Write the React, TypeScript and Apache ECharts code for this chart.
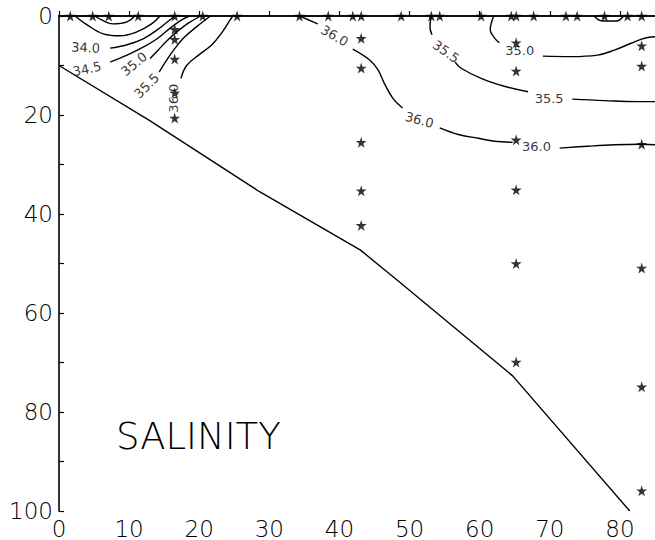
import React, { useEffect, useRef } from "react";
import * as echarts from "echarts";

// Station positions (distance, depth)
const surfaceX = [1.6, 4.8, 7.1, 11.3, 16.5, 20.5, 25.4, 34.3, 38.4, 41.9, 43.1, 48.8, 53.1, 54.3, 60.2, 64.5, 65.2, 67.7, 72.3, 73.9, 77.8, 81.1, 83.1];
const profileX = [16.5, 43.1, 65.2, 83.1];
const profileDepths = [
  [2.7, 4.7, 8.7, 15.5, 20.6],
  [4.5, 10.5, 25.5, 35.3, 42.3],
  [5.4, 11.1, 25.0, 35.1, 50.0, 69.9],
  [6.0, 10.1, 25.9, 50.9, 74.9, 95.9],
];

// Bottom profile
const bottomX = [0, 13, 28.6, 43, 48.6, 64.7, 81.4];
const bottomDepth = [10, 21.2, 35.5, 47.3, 53.8, 72.7, 100];

// Isohaline segments [distance, depth]
const isoInnerU = [[5.1, 0], [6.1, 0.8], [7.7, 1.6], [9.7, 1.2], [10.8, 0]];
const isoOuterU = [[2.3, 0], [4.0, 1.8], [6.3, 3.6], [8.7, 4.0], [11.1, 3.2], [13.2, 1.6], [14.4, 0]];
const iso340 = [[7.3, 6.5], [9.7, 5.8], [12.0, 4.6], [14.0, 2.8], [15.8, 0.8], [16.5, 0]];
const iso345 = [[7.3, 9.3], [9.7, 7.9], [12.0, 6.3], [14.0, 4.6], [15.9, 2.4], [17.5, 0.8], [18.6, 0]];
const iso350West = [[13.0, 8.6], [14.2, 6.8], [15.4, 5.0], [16.8, 3.2], [18.5, 1.4], [20.2, 0]];
const iso355West = [[14.3, 11.3], [15.4, 8.8], [16.5, 6.6], [17.8, 4.4], [19.6, 2.2], [21.6, 0]];
const iso360West = [[17.4, 12.6], [18.2, 10.0], [20.0, 7.8], [21.8, 5.8], [23.3, 3.2], [24.4, 0.8], [24.8, 0]];
const iso360A = [[34.3, 0], [36.9, 1.6]];
const iso360B = [[41.9, 6.7], [44.3, 8.9], [45.5, 10.9], [46.4, 13.6], [47.6, 16.6], [49.0, 18.6]];
const iso360C = [[54.3, 22.6], [57.1, 24.0], [59.8, 24.7], [62.1, 25.3], [64.7, 25.5]];
const iso360D = [[71.4, 26.7], [75.4, 26.3], [79.2, 26.0], [83.0, 25.9], [85, 26.0]];
const iso355A = [[53.1, 0], [52.9, 2.2], [53.2, 3.8]];
const iso355B = [[56.5, 9.3], [57.3, 10.5], [60.2, 12.6], [63.5, 14.2], [66.9, 15.3]];
const iso355C = [[73.2, 16.8], [77.8, 17.1], [82.5, 17.3], [85, 17.3]];
const iso350A = [[62.0, 0], [61.5, 2.8], [62.1, 4.4], [62.8, 5.4]];
const iso350B = [[69.0, 8.1], [73.0, 8.2], [76.8, 7.9], [79.2, 6.9], [81.6, 5.5], [83.5, 4.5], [85, 4.2]];
const isoLoop = [[76.3, 0], [77.5, 1.0], [79.5, 1.0], [80.5, 0]];

// Contour labels: [distance, depth, text, rotation]
const contourLabels: [number, number, string, number][] = [
  [3.8, 6.4, "34.0", -3],
  [4.0, 10.7, "34.5", 12],
  [10.7, 9.7, "35.0", 40],
  [12.5, 14.1, "35.5", 45],
  [16.3, 16.6, "36.0", 90],
  [39.3, 4.0, "36.0", -30],
  [51.4, 21.0, "36.0", -15],
  [68.1, 26.3, "36.0", 0],
  [55.2, 7.2, "35.5", -35],
  [69.9, 16.6, "35.5", 0],
  [65.7, 6.9, "35.0", 0],
];

const STAR = "path://M50,0 L61,35 L98,35 L68,57 L79,91 L50,70 L21,91 L32,57 L2,35 L39,35 Z";
const FONT = "DejaVu Sans";

export default function App() {
  const ref = useRef<HTMLDivElement>(null);
  useEffect(() => {
    if (!ref.current) return;
    const chart = echarts.init(ref.current, null, { renderer: "svg" });
    const contours = [
      isoInnerU, isoOuterU, iso340, iso345, iso350West, iso355West, iso360West,
      iso360A, iso360B, iso360C, iso360D, iso355A, iso355B, iso355C, iso350A, iso350B, isoLoop,
    ];
    const stars: number[][] = surfaceX.map((x) => [x, 0]);
    profileX.forEach((x, i) => profileDepths[i].forEach((d) => stars.push([x, d])));

    const lineSeries = contours.map((seg) => ({
      type: "line",
      data: seg,
      smooth: 0.4,
      symbol: "none",
      lineStyle: { color: "#000", width: 1.4 },
      z: 2,
    }));

    chart.setOption({
      animation: false,
      backgroundColor: "#fff",
      grid: { left: 59, top: 16, right: 0, bottom: 28 },
      xAxis: [
        {
          type: "value",
          min: 0,
          max: 85,
          interval: 10,
          position: "bottom",
          axisLine: { show: true, lineStyle: { color: "#000", width: 1.6 } },
          axisTick: { show: true, inside: true, length: 5, lineStyle: { color: "#000", width: 1.2 } },
          axisLabel: { color: "#000", fontSize: 23, fontFamily: FONT, fontWeight: 200, margin: 6, showMaxLabel: false },
          splitLine: { show: false },
        },
        {
          type: "value",
          min: 0,
          max: 85,
          position: "top",
          axisLine: { show: true, lineStyle: { color: "#000", width: 1.6 } },
          axisTick: { show: false },
          axisLabel: { show: false },
          splitLine: { show: false },
        },
      ],
      yAxis: {
        type: "value",
        inverse: true,
        min: 0,
        max: 100,
        interval: 20,
        axisLine: { show: true, lineStyle: { color: "#000", width: 1.6 } },
        axisTick: { show: true, inside: true, length: 5, lineStyle: { color: "#000", width: 1.2 } },
        minorTick: { show: true, splitNumber: 2, length: 5, lineStyle: { color: "#000", width: 1.2 } },
        axisLabel: { color: "#000", fontSize: 23, fontFamily: FONT, fontWeight: 200, margin: 6 },
        splitLine: { show: false },
      },
      series: [
        ...lineSeries,
        {
          type: "line",
          data: bottomX.map((x, i) => [x, bottomDepth[i]]),
          symbol: "none",
          lineStyle: { color: "#000", width: 1.4 },
          z: 2,
        },
        {
          type: "scatter",
          data: stars,
          symbol: STAR,
          symbolSize: 11,
          itemStyle: { color: "#000" },
          z: 4,
        },
        {
          type: "scatter",
          data: contourLabels.map((l) => ({
            name: l[2],
            value: [l[0], l[1]],
            label: { rotate: l[3] },
          })),
          symbolSize: 1,
          itemStyle: { color: "rgba(0,0,0,0)" },
          label: {
            show: true,
            position: "inside",
            formatter: "{b}",
            color: "#000",
            fontSize: 13,
            fontFamily: FONT,
            align: "center",
            verticalAlign: "middle",
          },
          z: 3,
        },
      ],
      graphic: [
        {
          type: "text",
          left: 116,
          top: 418,
          style: {
            text: "SALINITY",
            fill: "#000",
            fontSize: 37,
            fontFamily: FONT,
            fontWeight: 200,
          },
        },
      ],
    });
    return () => chart.dispose();
  }, []);
  return <div ref={ref} style={{ position: "absolute", left: 0, top: 0, width: 655, height: 540 }} />;
}
